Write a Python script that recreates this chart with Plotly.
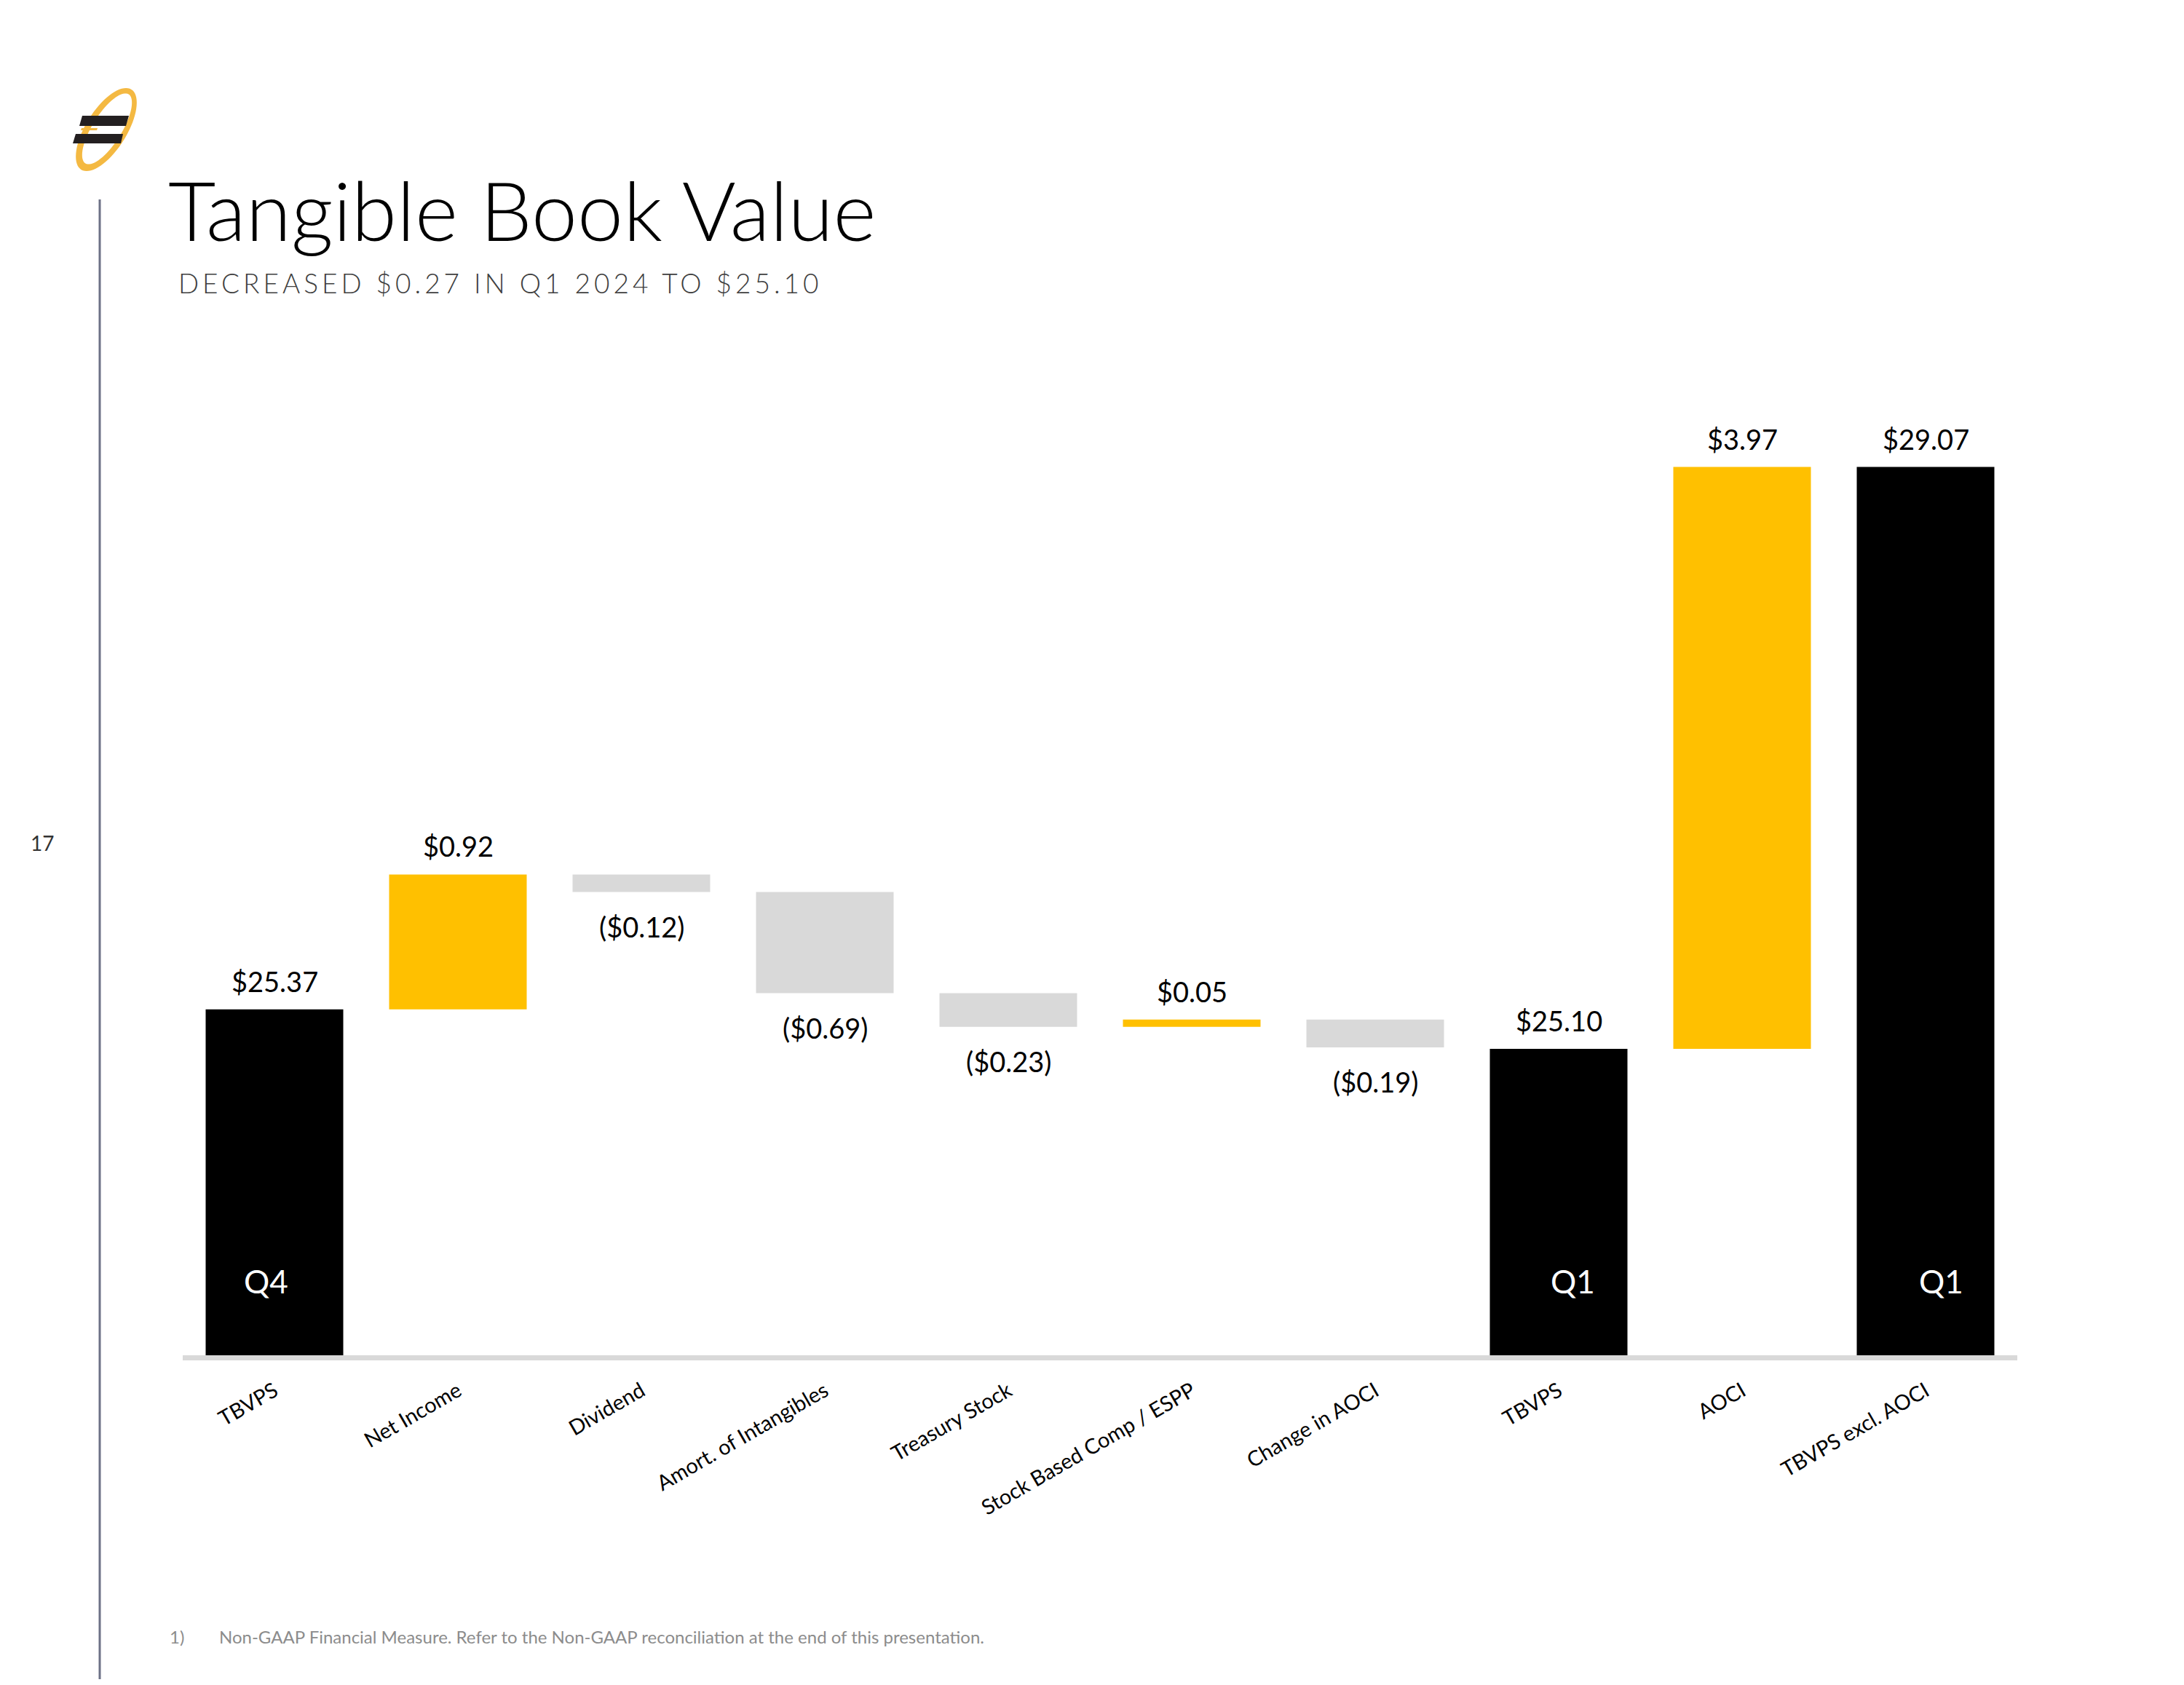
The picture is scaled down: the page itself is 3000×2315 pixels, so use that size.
import numpy as np
import plotly.graph_objects as go

# ---------------- data ----------------
categories = ["TBVPS", "Net Income", "Dividend", "Amort. of Intangibles", "Treasury Stock",
              "Stock Based Comp / ESPP", "Change in AOCI", "TBVPS", "AOCI", "TBVPS excl. AOCI"]
values = [25.37, 0.92, -0.12, -0.69, -0.23, 0.05, -0.19, 25.10, 3.97, 29.07]
measures = ["absolute", "relative", "relative", "relative", "relative",
            "relative", "relative", "absolute", "relative", "absolute"]
value_labels = ["$25.37", "$0.92", "($0.12)", "($0.69)", "($0.23)",
                "$0.05", "($0.19)", "$25.10", "$3.97", "$29.07"]
period_labels = ["Q4", "", "", "", "", "", "", "Q1", "", "Q1"]
period_label_xshift = [-12, 0, 0, 0, 0, 0, 0, 19, 0, 21]

title_text = "Tangible Book Value"
subtitle_text = "DECREASED $0.27 IN Q1 2024 TO $25.10"
footnote_num = "1)"
footnote_text = "Non-GAAP Financial Measure. Refer to the Non-GAAP reconciliation at the end of this presentation."
page_number = "17"

GOLD = "#FFC000"
GRAY = "#D9D9D9"
BLACK = "#000000"
FONT = "Lato"

# ---------------- layout geometry (screen pixels; page body has an 8px margin) ----------------
S = 8
W, H = 3000 - 2 * S, 2315 - 2 * S
PLOT_LEFT, PLOT_RIGHT, PLOT_TOP, PLOT_BOTTOM = 251, 2771, 500, 1862   # screen coords
L = PLOT_LEFT - S
T = PLOT_TOP - S
R = W - (PLOT_RIGHT - S)
B = H - (PLOT_BOTTOM - S)
PW, PH = PLOT_RIGHT - PLOT_LEFT, PLOT_BOTTOM - PLOT_TOP
Y_MIN = 23.01
PX_PER_UNIT = 201.4
Y_MAX = Y_MIN + PH / PX_PER_UNIT


def px(x):
    return (x - PLOT_LEFT) / PW


def py(y):
    return (PLOT_BOTTOM - y) / PH


xs = list(range(len(categories)))

fig = go.Figure()
fig.add_trace(go.Waterfall(
    x=xs, y=values, measure=measures,
    increasing=dict(marker=dict(color=GOLD)),
    decreasing=dict(marker=dict(color=GRAY)),
    totals=dict(marker=dict(color=BLACK)),
    connector=dict(visible=False),
    width=0.75,
    hoverinfo="skip",
    showlegend=False,
))

# value labels positioned from running totals
annotations = []
running = 0.0
for i, (v, m, lab) in enumerate(zip(values, measures, value_labels)):
    if m == "absolute":
        start, end = 0.0, v
        running = v
    else:
        start, end = running, running + v
        running = end
    if m == "absolute" or v >= 0:
        annotations.append(dict(x=i, y=max(start, end), xref="x", yref="y", text=lab,
                                showarrow=False, yanchor="bottom", yshift=14,
                                font=dict(family=FONT, size=38, color=BLACK)))
    else:
        annotations.append(dict(x=i, y=min(start, end), xref="x", yref="y", text=lab,
                                showarrow=False, yanchor="top", yshift=-22,
                                font=dict(family=FONT, size=38, color=BLACK)))
    if period_labels[i]:
        annotations.append(dict(x=i, y=0, xref="x", yref="paper", text=period_labels[i],
                                showarrow=False, yanchor="middle", yshift=102,
                                xshift=period_label_xshift[i],
                                font=dict(family=FONT, size=44, color="#FFFFFF")))

# titles and page texts
annotations += [
    dict(x=px(229), y=py(287), xref="paper", yref="paper", text=title_text, showarrow=False,
         xanchor="left", yanchor="middle",
         font=dict(family=FONT, size=113, color=BLACK, weight=300)),
    dict(x=px(243), y=py(388), xref="paper", yref="paper",
         text="<span style='letter-spacing:5px'>" + subtitle_text + "</span>", showarrow=False,
         xanchor="left", yanchor="middle",
         font=dict(family=FONT, size=37, color="#404040", weight=300)),
    dict(x=px(231), y=py(2248), xref="paper", yref="paper", text=footnote_num, showarrow=False,
         xanchor="left", yanchor="middle",
         font=dict(family=FONT, size=24, color="#8C8C8C")),
    dict(x=px(299), y=py(2248), xref="paper", yref="paper", text=footnote_text, showarrow=False,
         xanchor="left", yanchor="middle",
         font=dict(family=FONT, size=24, color="#8C8C8C")),
    dict(x=px(58), y=py(1158), xref="paper", yref="paper", text=page_number, showarrow=False,
         xanchor="center", yanchor="middle",
         font=dict(family=FONT, size=28, color="#333333")),
]

# ---------------- decorative shapes ----------------
shapes = []
# vertical rule on the left
shapes.append(dict(type="line", xref="paper", yref="paper", x0=px(137), x1=px(137),
                   y0=py(274), y1=py(2330), line=dict(color="#6D7186", width=3)))


def ellipse(cx, cy, a, b, theta_deg, n=72, reverse=False):
    t = np.linspace(0, 2 * np.pi, n, endpoint=False)
    if reverse:
        t = t[::-1]
    th = np.radians(theta_deg)
    x = cx + a * np.cos(t) * np.cos(th) - b * np.sin(t) * np.sin(th)
    y = cy - (a * np.cos(t) * np.sin(th) + b * np.sin(t) * np.cos(th))
    return x, y


def path_from(xs_, ys_):
    pts = [f"{px(a):.5f},{py(b):.5f}" for a, b in zip(xs_, ys_)]
    return "M " + " L ".join(pts) + " Z"


ox, oy = ellipse(146, 178, 65, 28, 58)
ix, iy = ellipse(147, 177, 56, 20, 58, reverse=True)
shapes.append(dict(type="path", xref="paper", yref="paper",
                   path=path_from(ox, oy) + " " + path_from(ix, iy),
                   fillcolor="#F4B942", line=dict(width=0)))
# black bars of the logo
for poly in ([(113, 159), (177, 159), (173, 173), (109, 173)],
             [(104, 184), (169, 184), (166, 197), (100, 197)]):
    shapes.append(dict(type="path", xref="paper", yref="paper",
                       path=path_from([p[0] for p in poly], [p[1] for p in poly]),
                       fillcolor="#231F20", line=dict(width=0)))
# thin gold sliver between the bars
shapes.append(dict(type="path", xref="paper", yref="paper",
                   path=path_from([112, 134, 133, 111], [176, 176, 179, 179]),
                   fillcolor="#F4B942", line=dict(width=0)))

fig.update_layout(
    width=W, height=H,
    margin=dict(l=L, r=R, t=T, b=B, autoexpand=False),
    paper_bgcolor="#FFFFFF", plot_bgcolor="#FFFFFF",
    xaxis=dict(range=[-0.5, len(categories) - 0.5], tickmode="array", tickvals=xs,
               ticktext=categories, tickangle=-30, ticks="", showgrid=False, zeroline=False,
               showline=True, linecolor=GRAY, linewidth=7, ticklabelstandoff=14,
               tickfont=dict(family=FONT, size=29, color=BLACK), fixedrange=True),
    yaxis=dict(range=[Y_MIN, Y_MAX], visible=False, showgrid=False, zeroline=False, fixedrange=True),
    annotations=annotations,
    shapes=shapes,
    showlegend=False,
)

fig.write_html("out.html")
